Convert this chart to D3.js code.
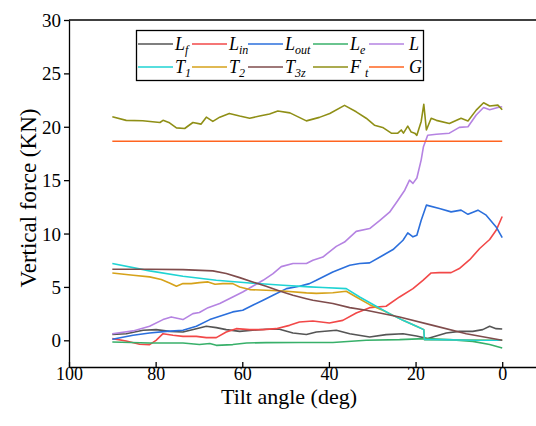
<!DOCTYPE html>
<html>
<head>
<meta charset="utf-8">
<script src="https://cdn.jsdelivr.net/npm/d3@7"></script>
<style>
    body { margin: 0; background: #fff; }
    .axis path, .axis line { stroke: #000; stroke-width: 1.3; }
    .line { fill: none; stroke-width: 1.6; stroke-linejoin: round; }
</style>
</head>
<body>
<div class="chart"></div>
<script>
// [tilt angle (deg), vertical force (KN)]
var lf = [[90,0.56],[86.8,0.62],[82.9,0.94],[79.9,1.0],[76.8,0.84],[73.7,0.78],[70.6,1.09],[68.3,1.31],[66,1.19],[63.7,1.0],[60.6,0.84],[57.6,0.94],[54.5,1.03],[51.4,1.03],[48.3,0.69],[45.2,0.55],[42.9,0.78],[38.3,0.94],[35.2,0.62],[30.6,0.31],[26.8,0.53],[22.9,0.62],[19.8,0.4],[17.2,0.16],[12.9,0.69],[9.9,0.84],[6.8,0.84],[4.5,1.0],[2.9,1.31],[1.4,1.09],[0,1.06]]
var lin = [[90,0.16],[86.8,-0.06],[83.7,-0.37],[81.4,-0.4],[79.9,0],[78.3,0.62],[76,0.47],[73.7,0.37],[70.6,0.37],[68.3,0.25],[66,0.25],[63.7,0.78],[61.4,1.09],[58.3,1.0],[55.2,1.0],[52.2,1.09],[49.1,1.4],[46.8,1.72],[43.7,1.81],[39.9,1.62],[36.8,1.87],[33.7,2.56],[30.6,3.06],[26.8,3.19],[23.7,4.06],[20.6,4.84],[18.3,5.62],[16.4,6.31],[14.5,6.34],[11.8,6.34],[9.9,6.72],[7.5,7.55],[5.2,8.6],[2.9,9.44],[1.4,10.3],[0,11.6]]
var lout = [[90,0.1],[85.2,0.47],[81.4,0.69],[77.5,0.84],[73.7,0.94],[70.6,1.31],[67.5,1.94],[64.5,2.34],[62.2,2.66],[59.9,2.81],[57.6,3.28],[55.2,3.75],[52.9,4.22],[49.8,4.84],[46.8,5.06],[44.5,5.31],[42.9,5.62],[39.1,6.4],[35.2,7.03],[32.9,7.19],[30.6,7.25],[27.9,7.87],[25.2,8.5],[22.9,9.37],[21.8,10.06],[20.6,9.69],[19.7,9.84],[18.7,11.25],[17.5,12.66],[14.5,12.34],[11.8,12.03],[9.5,12.19],[7.9,11.8],[5.6,12.19],[3.7,11.72],[1.4,10.62],[0,9.62]]
var le = [[90,-0.16],[81.4,-0.25],[73.7,-0.25],[69.9,-0.4],[67.5,-0.3],[66,-0.47],[62.2,-0.4],[59,-0.25],[54.5,-0.22],[46.8,-0.2],[39.1,-0.2],[31.4,0],[23.7,0.06],[17.9,0.16],[12.1,0.06],[6.8,-0.1],[2.9,-0.4],[0,-0.72]]
var lTotal = [[90,0.62],[85.2,0.88],[81.4,1.31],[78.3,1.94],[76.4,2.19],[73.7,1.94],[71.4,2.5],[69.9,2.6],[67.9,3.06],[65.2,3.44],[62.2,4.06],[59.9,4.53],[57.6,5.06],[55.2,5.62],[52.9,6.25],[51,6.9],[48.3,7.19],[45.2,7.2],[43.7,7.5],[41.4,7.8],[38.3,8.8],[36.4,9.2],[33.7,10.2],[30.6,10.47],[28.3,11.2],[26,12.0],[24.1,13.1],[22.5,14.06],[21.4,15.0],[20.6,14.7],[19.7,15.2],[18.7,16.9],[18.2,18.1],[17.2,19.2],[15.2,19.3],[12.2,19.4],[9.9,19.94],[7.9,20.0],[6,21.1],[4.3,21.8],[2.9,21.6],[1,21.8],[0,21.87]]
var t1 = [[90,7.19],[81.4,6.5],[73.7,6.0],[66,5.62],[58.3,5.37],[50.6,5.16],[44.5,5.0],[41.4,4.94],[36,4.84],[32.9,4.06],[29.1,3.19],[26,2.5],[22.9,1.87],[19.8,1.31],[18.1,1.0],[17.95,0.06],[12.2,0.04],[5,0],[0,0]]
var t2 = [[90,6.31],[85.2,6.1],[81.4,5.94],[78.7,5.69],[76.8,5.37],[75.2,5.06],[73.7,5.31],[71.8,5.31],[69.9,5.4],[67.9,5.47],[66.3,5.25],[64.5,5.31],[62.2,5.31],[60.6,5.0],[58.3,4.75],[54.5,4.69],[50.6,4.62],[45.2,4.44],[42.9,4.4],[39.1,4.45],[36,4.59],[33.7,4.06],[30.6,3.34],[27.6,2.81],[26,2.5],[22.9,1.87],[19.8,1.31],[18.1,1.0],[17.95,0.06],[0,0]]
var t3z = [[90,6.66],[81.4,6.66],[73.7,6.62],[66.8,6.5],[63.7,6.25],[60.6,5.87],[57.6,5.47],[54.5,5.06],[51.4,4.62],[48.3,4.22],[45.2,3.9],[43.7,3.75],[39.1,3.44],[35.2,3.06],[31.4,2.81],[23.7,2.19],[16,1.4],[8.3,0.62],[0,0]]
var ft = [[90,20.94],[86.8,20.6],[83,20.57],[79,20.4],[78.3,20.6],[76.8,20.37],[75.2,19.9],[73.3,19.84],[71.4,20.4],[69.5,20.25],[68.3,20.9],[66.8,20.5],[65.2,20.9],[63,21.25],[60.6,21.0],[58.3,20.8],[56,21.0],[53.7,21.2],[51.8,21.47],[49,21.3],[45.2,20.55],[42.2,20.88],[39.8,21.25],[36.4,22.0],[33.7,21.4],[31.4,20.8],[29.5,20.15],[27.6,19.94],[25.6,19.4],[24.1,19.4],[23.3,19.7],[22.8,19.4],[21.8,20.06],[21,19.5],[20.2,19.4],[19.7,19.2],[18.7,20.5],[18.1,22.1],[17.5,19.7],[16.4,20.8],[15.2,20.6],[12.2,20.3],[9.5,20.8],[7.9,20.55],[6,21.56],[4.3,22.25],[2.9,21.94],[1,22.03],[0,21.6]]
var g = [[90,18.65],[0,18.65]]

var xTicks = [100, 80, 60, 40, 20, 0]
var yTicks = [0, 5, 10, 15, 20, 25, 30]

// legend rows: main letter + subscript
var legendRow1 = [
    {name: "L", sub: "f", data: lf, color: "#555555"},
    {name: "L", sub: "in", data: lin, color: "#f24848"},
    {name: "L", sub: "out", data: lout, color: "#2b6fdc"},
    {name: "L", sub: "e", data: le, color: "#38b06a"},
    {name: "L", sub: "", data: lTotal, color: "#b583e2"}
]
var legendRow2 = [
    {name: "T", sub: "1", data: t1, color: "#1fd3d3"},
    {name: "T", sub: "2", data: t2, color: "#d6a21a"},
    {name: "T", sub: "3z", data: t3z, color: "#7f4c4c"},
    {name: "F", sub: "t", data: ft, color: "#8f8f16"},
    {name: "G", sub: "", data: g, color: "#ff6420"}
]

var font = "'Liberation Serif', 'Times New Roman', Times, 'DejaVu Serif', serif"
var width = 536, height = 426
var margin = {top: 20, left: 69, bottom: 59, right: 0}

var svg = d3.select(".chart").append("svg")
    .attr("width", width).attr("height", height)
    .attr("font-family", font)

var x = d3.scaleLinear().domain([100, -7.8]).range([margin.left, width])
var y = d3.scaleLinear().domain([-2.5, 30]).range([height - margin.bottom, margin.top])

drawAxis()
drawLines()
drawLegend()

function drawAxis() {
    var yAxis = d3.axisLeft(y).tickValues(yTicks).tickSize(5).tickSizeOuter(0)
    var gy = svg.append("g").attr("class", "axis")
        .attr("transform", "translate(" + margin.left + ",0)")
        .call(yAxis)
        .attr("font-family", font)
    gy.selectAll("text").attr("font-size", 19).attr("fill", "#000").attr("x", -8).attr("dy", "0.34em")

    var xAxis = d3.axisBottom(x).tickValues(xTicks).tickSize(-5).tickSizeOuter(0)
    var gx = svg.append("g").attr("class", "axis")
        .attr("transform", "translate(0," + y(-2.5) + ")")
        .call(xAxis)
        .attr("font-family", font)
    gx.selectAll("text").attr("font-size", 18).attr("fill", "#000").attr("y", 0).attr("dy", "0.71em")

    // top frame line
    svg.append("line")
        .attr("x1", margin.left).attr("x2", width)
        .attr("y1", y(30)).attr("y2", y(30))
        .attr("stroke", "#000").attr("stroke-width", 1.3)

    svg.append("text")
        .attr("x", 289).attr("y", 404)
        .attr("text-anchor", "middle")
        .attr("font-size", 22)
        .text("Tilt angle (deg)")

    svg.append("text")
        .attr("transform", "translate(36,198) rotate(-90)")
        .attr("text-anchor", "middle")
        .attr("font-size", 23)
        .text("Vertical force (KN)")
}

function drawLines() {
    var line = d3.line()
        .x(function(d) { return x(d[0]) })
        .y(function(d) { return y(d[1]) })

    var order = legendRow1.concat([legendRow2[1], legendRow2[0]], legendRow2.slice(2))
    svg.selectAll(".line")
        .data(order)
        .enter().append("path")
        .attr("class", "line")
        .attr("stroke", function(d) { return d.color })
        .attr("d", function(d) { return line(d.data) })
}

function drawLegend() {
    var lg = svg.append("g")
    lg.append("rect")
        .attr("x", 136.5).attr("y", 30.5)
        .attr("width", 287).attr("height", 50)
        .attr("fill", "#fff").attr("stroke", "#000").attr("stroke-width", 1.3)

    var cols = [138, 192, 248, 313, 369]
    var rows = [[legendRow1, 44], [legendRow2, 67]]
    rows.forEach(function(r) {
        r[0].forEach(function(d, i) {
            lg.append("line")
                .attr("x1", cols[i]).attr("x2", cols[i] + 35)
                .attr("y1", r[1]).attr("y2", r[1])
                .attr("stroke", d.color).attr("stroke-width", 1.6)
            var t = lg.append("text")
                .attr("x", cols[i] + 37 + (d.sub === "" && i == 4 ? 3 : 0))
                .attr("y", r[1] + 6)
                .attr("font-size", 18)
                .attr("font-style", "italic")
            t.append("tspan").text(d.name)
            if (d.sub) {
                t.append("tspan")
                    .attr("font-size", 12)
                    .attr("dy", 4)
                    .attr("dx", d.name == "F" ? 4 : 0)
                    .text(d.sub)
            }
        })
    })
}
</script>
</body>
</html>
